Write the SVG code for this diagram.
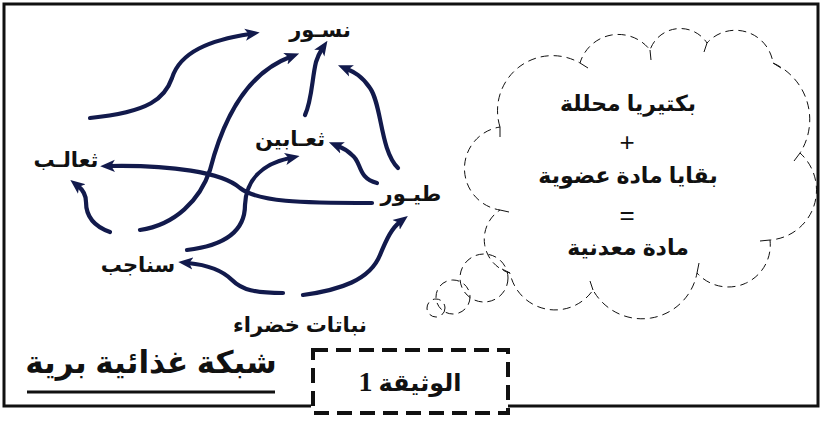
<svg xmlns="http://www.w3.org/2000/svg" width="827" height="421" viewBox="0 0 827 421">
<style>
.lbl{font-family:"Liberation Sans","DejaVu Sans",Arial,sans-serif;font-weight:bold;font-size:21px;fill:#111;text-anchor:middle}
.cl{font-family:"Liberation Sans","DejaVu Sans",Arial,sans-serif;font-weight:bold;font-size:22px;fill:#111;text-anchor:middle}
.sym{font-family:"Liberation Sans",Arial,sans-serif;font-size:26px;fill:#111;text-anchor:middle}
.arr{fill:none;stroke:#121a4c;stroke-width:4.2;stroke-linecap:round;marker-end:url(#ah)}
.dash{fill:none;stroke:#111;stroke-width:1;stroke-dasharray:8 5}
.stub{fill:none;stroke:#111;stroke-width:1}
</style>
<defs>
<marker id="ah" viewBox="0 0 12 10" refX="4" refY="5" markerWidth="3.5" markerHeight="3.2" orient="auto" markerUnits="strokeWidth">
<path d="M0,0 L12,5 L0,10 L3,5 z" fill="#121a4c"/>
</marker>
</defs>
<rect x="0" y="0" width="827" height="421" fill="#fff"/>
<g id="frame">
<path d="M311,406 L4,406 L4,4 L818,4 L818,406 L508,406" fill="none" stroke="#111" stroke-width="3"/>
</g>
<g id="connectors">
<path class="arr" d="M90,118 C150,112 165,98 172,78 C180,52 210,40 250,34"/>
<path class="arr" d="M140,230 C175,225 200,200 210,170 C225,112 250,72 290,57"/>
<path class="arr" d="M187,250 C230,245 245,228 245,205 C246,180 262,164 290,158"/>
<path class="arr" d="M110,232 C90,225 86,212 86,202 C86,195 83,190 78,186"/>
<path class="arr" d="M372,203 C300,203 258,202 240,188 C222,172 170,165 110,166"/>
<path class="arr" d="M377,183 C357,178 362,162 352,155 C347,150 343,148 338,146"/>
<path class="arr" d="M398,168 C380,150 382,105 370,88 C362,76 354,72 347,69"/>
<path class="arr" d="M305,115 C312,100 312,78 316,62 C318,56 320,52 322,49"/>
<path class="arr" d="M283,293 C255,293 242,290 232,280 C222,270 208,265 188,263"/>
<path class="arr" d="M303,295 C340,290 370,280 380,255 C387,238 392,228 400,222"/>
</g>
<g id="n-nusur"><text class="lbl" x="320" y="37" direction="rtl">نسـور</text></g>
<g id="n-thaabin"><text class="lbl" x="290" y="146" direction="rtl">ثعـابين</text></g>
<g id="n-thaalib"><text class="lbl" x="66" y="167" direction="rtl">ثعالـب</text></g>
<g id="n-tuyur"><text class="lbl" x="411" y="201" direction="rtl">طيـور</text></g>
<g id="n-sanajib"><text class="lbl" x="138" y="272" direction="rtl">سناجب</text></g>
<g id="n-plants"><text class="lbl" x="300" y="332" direction="rtl">نباتات خضراء</text></g>
<g id="cloud">
<path class="dash" d="M500,127 A55,55 0 0 1 580,63 A40,40 0 0 1 650,50 A32,32 0 0 1 707,43 A38,38 0 0 1 773,63 A62,62 0 0 1 800,153 A50,50 0 0 1 770,240 A42,42 0 0 1 697,273 A56,56 0 0 1 593,290 A46,46 0 0 1 510,273 A35,35 0 0 1 500,210 A42,42 0 0 1 500,127 Z"/>
<path class="stub" d="M500,127 L500,137 M580,63 L588,68 M650,50 L651,60 M707,43 L704,52 M773,63 L781,68 M800,153 L794,161 M770,240 L760,241 M697,273 L699,263 M593,290 L590,281 M510,273 L502,269 M500,210 L509,212"/>
<circle class="dash" cx="484" cy="278" r="24"/>
<circle class="dash" cx="453" cy="297" r="17"/>
<circle class="dash" cx="436" cy="308" r="9"/>
<text class="cl" x="628" y="111" direction="rtl">بكتيريا محللة</text>
<text class="sym" x="627" y="151">+</text>
<text class="cl" x="628" y="183" direction="rtl">بقايا مادة عضوية</text>
<text class="sym" x="627" y="224">=</text>
<text class="cl" x="628" y="255" direction="rtl">مادة معدنية</text>
</g>
<g id="title">
<text x="151" y="373" direction="rtl" text-anchor="middle" style="font-family:'Liberation Sans','DejaVu Sans',Arial,sans-serif;font-weight:bold;font-size:31px;fill:#111">شبكة غذائية برية</text>
<line x1="27" y1="392" x2="275" y2="392" stroke="#111" stroke-width="3"/>
</g>
<g id="doc">
<rect x="313" y="350" width="195" height="63" fill="none" stroke="#111" stroke-width="4" stroke-dasharray="15 8"/>
<text x="410" y="391" direction="rtl" text-anchor="middle" style="font-family:'Liberation Serif','DejaVu Sans',serif;font-weight:bold;font-size:24px;fill:#111">الوثيقة <tspan style="font-size:28px">1</tspan></text>
</g>
</svg>
